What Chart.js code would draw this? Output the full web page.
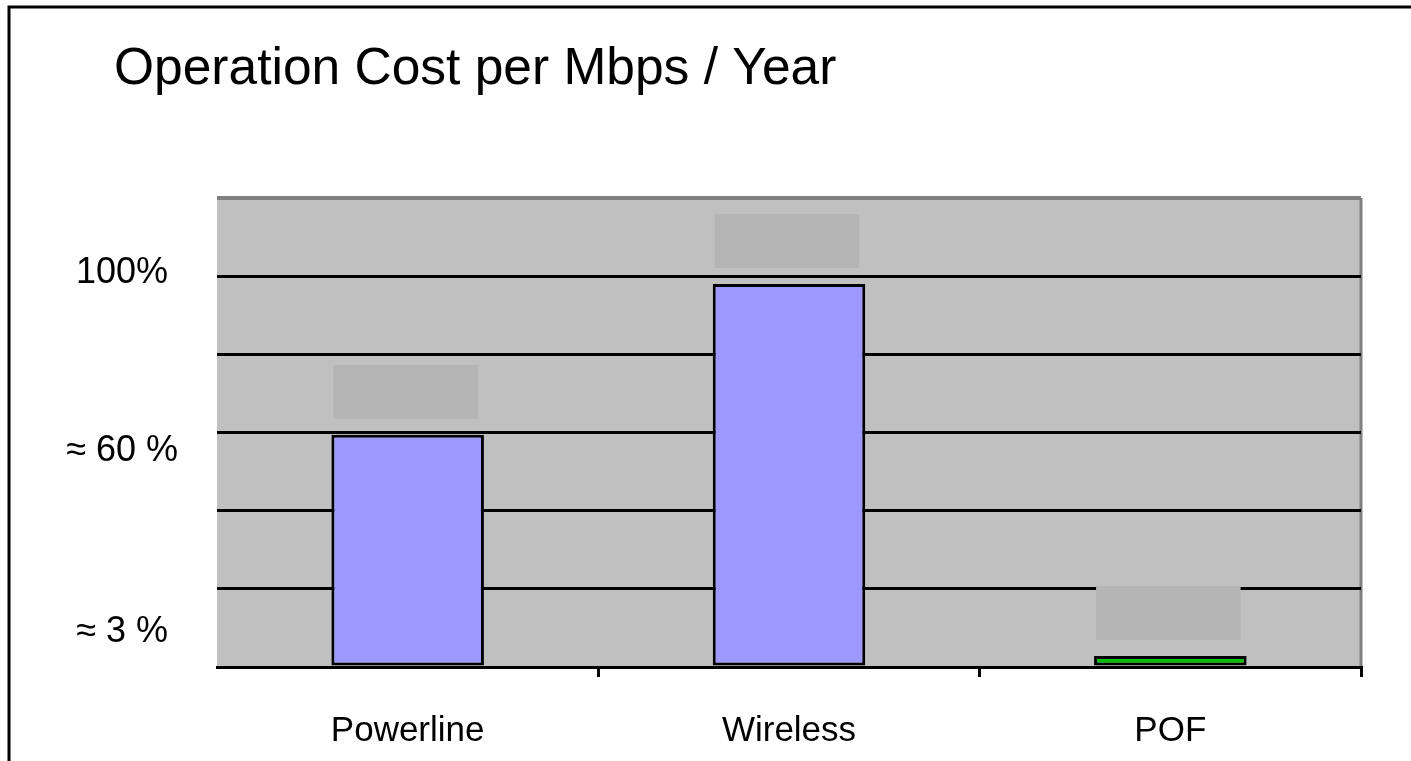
<!DOCTYPE html>
<html>
<head>
<meta charset="utf-8">
<script src="https://cdn.jsdelivr.net/npm/chart.js@4"></script>
<style>
  html, body { margin: 0; padding: 0; background: #fff; }
  #wrap { width: 1411px; height: 761px; }
</style>
</head>
<body>
<div id="wrap"><canvas id="costChart"></canvas></div>
<script>
// Data
const categories = ['Powerline', 'Wireless', 'POF'];
const costShare = [59.4, 98, 2.8];
// labels on the value axis and where they sit (in % units)
const tickLabels = ['100%', '≈ 60 %', '≈ 3 %'];
const tickLabelValues = [100.8, 55.3, 9];
const chartTitle = 'Operation Cost per Mbps / Year';

const FONT = '"Liberation Sans", Arial, sans-serif';

// grey plot background + grey right edge
const plotBackground = {
    id: 'plotBackground',
    beforeDraw(chart) {
        const { ctx, chartArea: a } = chart;
        ctx.save();
        ctx.fillStyle = '#c0c0c0';
        ctx.fillRect(a.left, a.top, a.right - a.left, a.bottom - a.top);
        ctx.strokeStyle = '#808080';
        ctx.lineWidth = 3;
        ctx.beginPath();
        ctx.moveTo(a.right, a.top);
        ctx.lineTo(a.right, a.bottom);
        ctx.stroke();
        ctx.restore();
    }
};

// blanked value boxes above each bar
const labelBoxes = {
    id: 'labelBoxes',
    afterDatasetsDraw(chart) {
        const { ctx } = chart;
        ctx.save();
        ctx.fillStyle = '#b4b4b4';
        chart.getDatasetMeta(0).data.forEach(bar => {
            const w = bar.width - 8;
            ctx.fillRect(bar.x - w / 2 - 2, bar.y - 16 - 54, w, 54);
        });
        ctx.restore();
    }
};

// title text + black frame on left and top of the picture
const frame = {
    id: 'frame',
    afterDraw(chart) {
        const { ctx } = chart;
        ctx.save();
        ctx.fillStyle = '#000';
        ctx.font = '51.5px ' + FONT;
        ctx.textAlign = 'left';
        ctx.textBaseline = 'alphabetic';
        ctx.fillText(chartTitle, 114, 84);
        ctx.strokeStyle = '#000';
        ctx.lineWidth = 3;
        ctx.beginPath();
        ctx.moveTo(9, chart.height);
        ctx.lineTo(9, 7);
        ctx.lineTo(chart.width, 7);
        ctx.stroke();
        ctx.restore();
    }
};

Chart.defaults.color = '#000';
Chart.defaults.font.family = FONT;

new Chart(document.getElementById('costChart'), {
    type: 'bar',
    data: {
        labels: categories,
        datasets: [{
            data: costShare,
            backgroundColor: ['#9e99ff', '#9e99ff', '#00c000'],
            borderColor: '#000',
            borderWidth: 3,
            borderSkipped: false,
            categoryPercentage: 1,
            barPercentage: 0.4,
            yAxisID: 'y'
        }]
    },
    options: {
        responsive: true,
        maintainAspectRatio: false,
        animation: false,
        layout: { padding: { left: 0, right: 50, top: 198, bottom: 10 } },
        plugins: {
            legend: { display: false },
            tooltip: { enabled: false },
            title: { display: false }
        },
        scales: {
            x: {
                offset: true,
                grid: {
                    display: true,
                    drawOnChartArea: false,
                    drawTicks: true,
                    tickLength: 10,
                    lineWidth: 3,
                    offset: true,
                    color: c => c.index === 0 ? 'rgba(0,0,0,0)' : '#000'
                },
                border: { display: true, color: '#000', width: 3 },
                ticks: { font: { size: 35 }, padding: 33, color: '#000' },
                afterFit(scale) { scale.height = 84; }
            },
            y: {
                position: 'left',
                min: 0,
                max: 120,
                ticks: { display: false, stepSize: 20 },
                grid: {
                    drawTicks: false,
                    color: c => c.tick.value === 120 ? '#808080' : '#000',
                    lineWidth: c => c.tick.value === 120 ? 4 : 3
                },
                border: { display: false },
                afterFit(scale) { scale.width = 0; }
            },
            yl: {
                position: 'left',
                min: 0,
                max: 120,
                grid: { display: false },
                border: { display: false },
                afterBuildTicks(scale) {
                    scale.ticks = tickLabelValues.map(v => ({ value: v }));
                },
                ticks: {
                    font: { size: 36 },
                    padding: 31,
                    crossAlign: 'center',
                    autoSkip: false,
                    callback: (v, i) => tickLabels[i]
                },
                afterFit(scale) { scale.width = 217; }
            }
        }
    },
    plugins: [plotBackground, labelBoxes, frame]
});
</script>
</body>
</html>
